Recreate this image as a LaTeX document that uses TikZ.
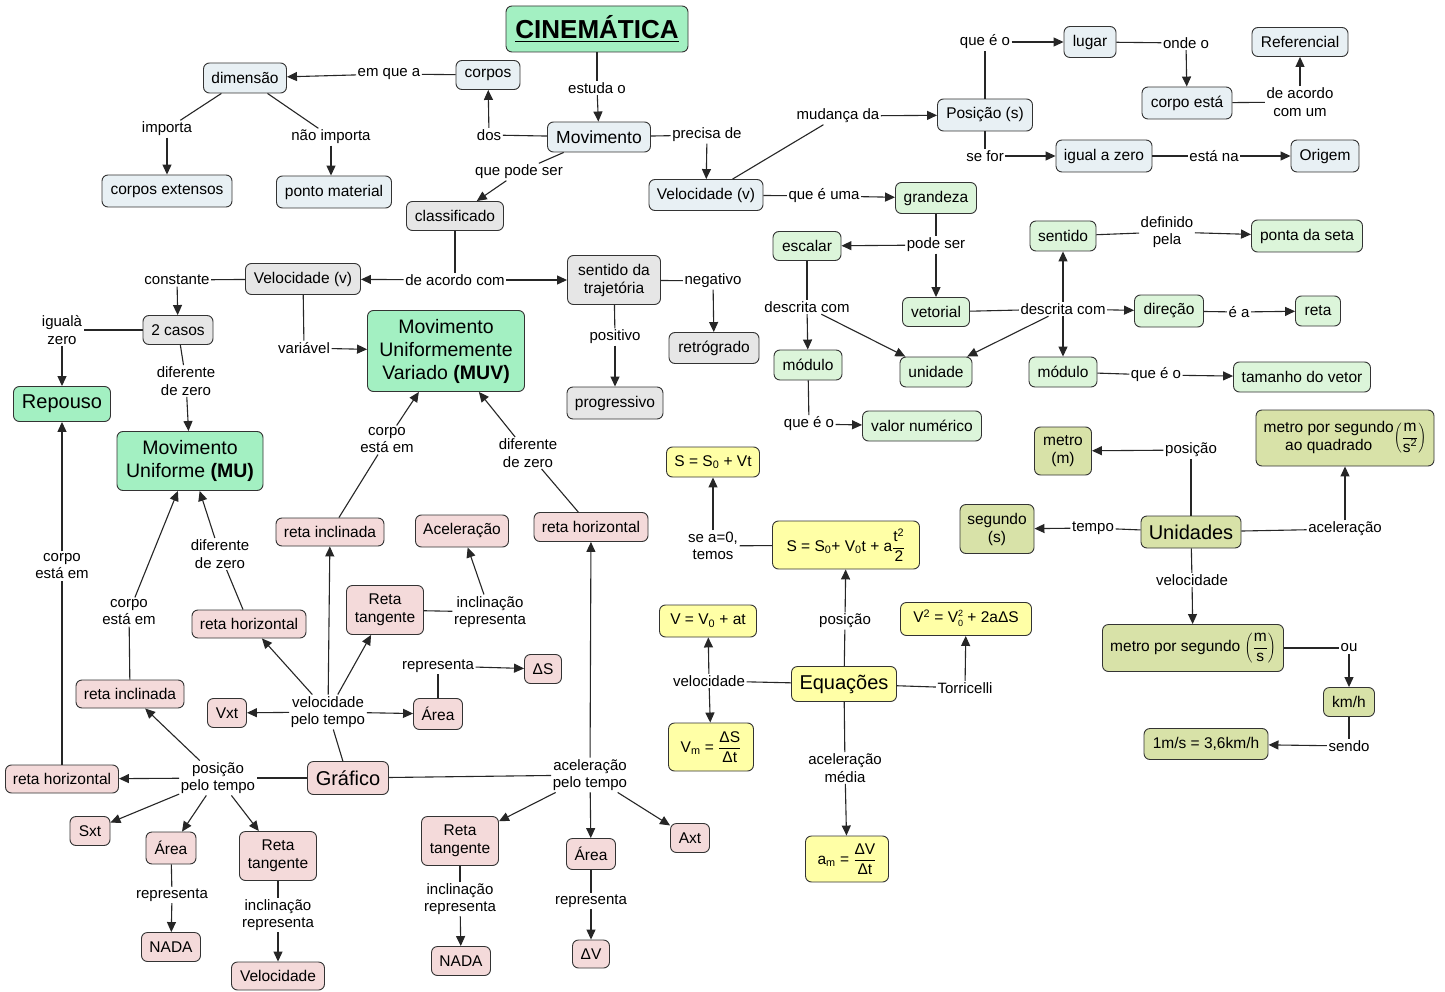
\documentclass[tikz,border=0pt]{standalone}
\usepackage{fontspec}
\setmainfont{Liberation Sans}
\usetikzlibrary{arrows.meta}
\definecolor{cBlue}{HTML}{E8F0F4}
\definecolor{cGray}{HTML}{E6E6E6}
\definecolor{cLG}{HTML}{DCF5DA}
\definecolor{cMint}{HTML}{A3F0C2}
\definecolor{cPink}{HTML}{F4DADA}
\definecolor{cYel}{HTML}{FFFFA6}
\definecolor{cOl}{HTML}{D8E2A8}
\newcommand\myfN{\fontsize{15.5}{18}\selectfont}
\newcommand\myfL{\fontsize{15}{17.5}\selectfont}
\newcommand\myfB{\fontsize{20}{23}\selectfont}
\newcommand\myfM{\fontsize{19.5}{23}\selectfont}
\newcommand\myfMv{\fontsize{17.5}{20}\selectfont}
\newcommand\myfT{\fontsize{26}{30}\selectfont\bfseries}
\newcommand\myul[1]{\setbox0\hbox{#1}\rlap{\copy0}\rule[-3.5pt]{\wd0}{1.6pt}}
\newcommand\mystack{\raisebox{1pt}{\fontsize{9}{10}\selectfont\begin{tabular}{@{}c@{}}2\\0\end{tabular}}}
\tikzset{
  bx/.style={draw=black!80, line width=0.9pt, rounded corners=6pt, align=center, inner sep=1pt, font=\myfN},
  nBlue/.style={bx, fill=cBlue},
  nGray/.style={bx, fill=cGray},
  nLG/.style={bx, fill=cLG},
  nMint/.style={bx, fill=cMint},
  nPink/.style={bx, fill=cPink},
  nYel/.style={bx, fill=cYel},
  nOl/.style={bx, fill=cOl},
  lbl/.style={font=\myfL, align=center, inner sep=1.5pt},
  ln/.style={draw=black!85, line width=1.1pt},
  ar/.style={ln, -{Triangle[length=10pt,width=9pt]}}
}
\begin{document}
\begin{tikzpicture}[x=1pt,y=-1pt]
\fill[white] (0,0) rectangle (1445,992);
\useasboundingbox (0,0) rectangle (1445,992);
% top
\node[nMint, font=\myfT, minimum width=182, minimum height=46] (cin) at (597,29) {\myul{CINEMÁTICA}};
\node[nBlue, minimum width=83, minimum height=30] (dim) at (245,78) {dimensão};
\node[nBlue, minimum width=64, minimum height=29] (cor) at (488,75) {corpos};
\node[lbl] (l1) at (389,74) {em que a};
\node[nBlue, font=\myfMv, minimum width=103, minimum height=30] (mov) at (599,137) {Movimento};
\node[lbl] (l2) at (597,88) {estuda o};
\node[lbl] (l3) at (489,135) {dos};
\node[lbl] (l4) at (707,135) {precisa de};
\node[lbl] (l5) at (519,172) {que pode ser};
\node[nGray, minimum width=97, minimum height=29] (cla) at (455,216) {classificado};
\node[lbl] (l6) at (167,129) {importa};
\node[lbl] (l7) at (331,137) {não importa};
\node[nBlue, minimum width=130, minimum height=32] (cext) at (167,191) {corpos extensos};
\node[nBlue, minimum width=115, minimum height=32] (pmat) at (334,192) {ponto material};
\node[nBlue, minimum width=114, minimum height=31] (vel) at (706,195) {Velocidade (v)};
\node[lbl] (l8) at (838,116) {mudança da};
\node[nBlue, minimum width=95, minimum height=32] (pos) at (985,115) {Posição (s)};
\node[lbl] (l9) at (985,42) {que é o};
\node[nBlue, minimum width=52, minimum height=31] (lug) at (1090,42) {lugar};
\node[lbl] (l10) at (1186,43) {onde o};
\node[nBlue, minimum width=90, minimum height=32] (cpe) at (1187,103) {corpo está};
\node[lbl] (l11) at (1300,102) {de acordo\\com um};
\node[nBlue, minimum width=96, minimum height=29] (ref) at (1300,42) {Referencial};
\node[lbl] (l12) at (985,156) {se for};
\node[nBlue, minimum width=96, minimum height=32] (iaz) at (1104,156) {igual a zero};
\node[lbl] (l13) at (1214,156) {está na};
\node[nBlue, minimum width=68, minimum height=32] (ori) at (1325,156) {Origem};
\node[lbl] (l14) at (824,196) {que é uma};
\node[nLG, minimum width=81, minimum height=31] (gra) at (936,198) {grandeza};
\node[lbl] (l15) at (936,245) {pode ser};
\node[nLG, minimum width=68, minimum height=29] (esc) at (807,246) {escalar};
\node[nLG, minimum width=67, minimum height=29] (vet) at (936,312) {vetorial};
\node[lbl] (l16) at (807,307) {descrita com};
\node[nLG, minimum width=68, minimum height=30] (modL) at (808,365) {módulo};
\node[nLG, minimum width=72, minimum height=30] (uni) at (936,372) {unidade};
\node[lbl] (l17) at (809,424) {que é o};
\node[nLG, minimum width=119, minimum height=30] (vnum) at (922,426) {valor numérico};
\node[lbl] (l18) at (1063,309) {descrita com};
\node[nLG, minimum width=66, minimum height=30] (sen) at (1063,236) {sentido};
\node[lbl] (l19) at (1167,232) {definido\\pela};
\node[nLG, minimum width=111, minimum height=32] (pse) at (1307,236) {ponta da seta};
\node[nLG, minimum width=69, minimum height=32] (dir) at (1169,311) {direção};
\node[lbl] (l20) at (1239,312) {é a};
\node[nLG, minimum width=45, minimum height=30] (ret) at (1318,311) {reta};
\node[nLG, minimum width=68, minimum height=30] (modR) at (1063,372) {módulo};
\node[lbl] (l21) at (1156,375) {que é o};
\node[nLG, minimum width=137, minimum height=30] (tam) at (1302,377) {tamanho do vetor};
% left middle
\node[nGray, minimum width=115, minimum height=31] (velL) at (303,279) {Velocidade (v)};
\node[lbl] (l22) at (455,280) {de acordo com};
\node[nGray, minimum width=93, minimum height=49] (str) at (614,280) {sentido da\\trajetória};
\node[lbl] (l23) at (713,281) {negativo};
\node[nGray, minimum width=90, minimum height=31] (retro) at (714,348) {retrógrado};
\node[lbl] (l24) at (615,337) {positivo};
\node[nGray, minimum width=96, minimum height=32] (prog) at (615,403) {progressivo};
\node[lbl] (l25) at (177,280) {constante};
\node[nGray, minimum width=70, minimum height=29] (cas) at (178,330) {2 casos};
\node[lbl] (l26) at (62,330) {igualà\\zero};
\node[nMint, font=\myfB, minimum width=97, minimum height=35] (rep) at (62,404) {Repouso};
\node[lbl] (l27) at (186,381) {diferente\\de zero};
\node[nMint, font=\myfM, minimum width=146, minimum height=59] (mu) at (190,461) {Movimento\\Uniforme \textbf{(MU)}};
\node[lbl] (l28) at (304,348) {variável};
\node[nMint, font=\myfM, minimum width=157, minimum height=81] (muv) at (446,351) {Movimento\\Uniformemente\\Variado \textbf{(MUV)}};
% graph part
\node[lbl] (l29) at (62,566) {corpo\\está em};
\node[lbl] (l30) at (129,612) {corpo\\está em};
\node[lbl] (l31) at (220,554) {diferente\\de zero};
\node[nPink, minimum width=114, minimum height=28] (rhM) at (249,624) {reta horizontal};
\node[nPink, minimum width=108, minimum height=28] (riL) at (130,694) {reta inclinada};
\node[nPink, minimum width=113, minimum height=28] (rhL) at (62,779) {reta horizontal};
\node[lbl] (l32) at (387,440) {corpo\\está em};
\node[lbl] (l33) at (528,453) {diferente\\de zero};
\node[nPink, minimum width=108, minimum height=28] (riM) at (330,532) {reta inclinada};
\node[nPink, minimum width=93, minimum height=32] (ace) at (462,531) {Aceleração};
\node[nPink, minimum width=114, minimum height=29] (rhR) at (591,527) {reta horizontal};
\node[nPink, minimum width=77, minimum height=49] (rtM) at (385,610) {Reta\\tangente};
\node[lbl] (l34) at (490,612) {inclinação\\representa};
\node[lbl] (l35) at (438,666) {representa};
\node[nPink, minimum width=37, minimum height=29] (dS) at (543,669) {ΔS};
\node[nPink, minimum width=49, minimum height=31] (arM) at (438,714) {Área};
\node[lbl] (l36) at (328,712) {velocidade\\pelo tempo};
\node[nPink, minimum width=39, minimum height=29] (vxt) at (227,713) {Vxt};
\node[nPink, font=\myfB, minimum width=81, minimum height=33] (gra2) at (348,778) {Gráfico};
\node[lbl] (l37) at (218,778) {posição\\pelo tempo};
\node[nPink, minimum width=40, minimum height=29] (sxt) at (90,831) {Sxt};
\node[nPink, minimum width=50, minimum height=32] (arL) at (171,848) {Área};
\node[nPink, minimum width=77, minimum height=49] (rtL) at (278,856) {Reta\\tangente};
\node[lbl] (l38) at (172,895) {representa};
\node[nPink, minimum width=59, minimum height=29] (nadaL) at (171,947) {NADA};
\node[lbl] (l39) at (278,915) {inclinação\\representa};
\node[nPink, minimum width=93, minimum height=28] (velB) at (278,976) {Velocidade};
\node[lbl] (l40) at (590,775) {aceleração\\pelo tempo};
\node[nPink, minimum width=77, minimum height=49] (rtR) at (460,841) {Reta\\tangente};
\node[lbl] (l41) at (460,899) {inclinação\\representa};
\node[nPink, minimum width=59, minimum height=29] (nadaR) at (461,961) {NADA};
\node[nPink, minimum width=49, minimum height=31] (arR) at (591,854) {Área};
\node[lbl] (l42) at (591,901) {representa};
\node[nPink, minimum width=37, minimum height=28] (dV) at (591,954) {ΔV};
\node[nPink, minimum width=39, minimum height=29] (axt) at (690,838) {Axt};
% equations
\node[nYel, minimum width=93, minimum height=30] (e1) at (713,462) {S = S\textsubscript{0} + Vt};
\node[lbl] (l43) at (713,546) {se a=0,\\temos};
\node[nYel, minimum width=147, minimum height=48] (e2) at (846,545) {S = S\textsubscript{0}+ V\textsubscript{0}t + a$\displaystyle\frac{\mbox{t\textsuperscript{2}}}{\mbox{2}}$};
\node[lbl] (l44) at (845,621) {posição};
\node[nYel, minimum width=97, minimum height=32] (e3) at (708,621) {V = V\textsubscript{0} + at};
\node[lbl] (l45) at (709,681) {velocidade};
\node[nYel, font=\myfB, minimum width=105, minimum height=35] (equ) at (844,684) {Equações};
\node[nYel, minimum width=131, minimum height=33] (e4) at (966,619) {V\textsuperscript{2} = V\mystack{} + 2aΔS};
\node[lbl] (l46) at (965,688) {Torricelli};
\node[nYel, minimum width=85, minimum height=48] (e5) at (711,747) {V\textsubscript{m} = $\displaystyle\frac{\mbox{ΔS}}{\mbox{Δt}}$};
\node[lbl] (l47) at (845,768) {aceleração\\média};
\node[nYel, minimum width=83, minimum height=46] (e6) at (847,859) {a\textsubscript{m} = $\displaystyle\frac{\mbox{ΔV}}{\mbox{Δt}}$};
% units
\node[nOl, minimum width=57, minimum height=48] (met) at (1063,451) {metro\\(m)};
\node[lbl] (l48) at (1191,450) {posição};
\node[nOl, minimum width=178, minimum height=56] (ms2) at (1345,438) {\begin{tabular}{@{}c@{}}metro por segundo\\ao quadrado\end{tabular}$\left(\displaystyle\frac{\mbox{m}}{\mbox{s\textsuperscript{2}}}\right)$};
\node[nOl, minimum width=74, minimum height=49] (seg) at (997,529) {segundo\\(s)};
\node[lbl] (l49) at (1093,528) {tempo};
\node[nOl, font=\myfB, minimum width=100, minimum height=32] (uni2) at (1191,532) {Unidades};
\node[lbl] (l50) at (1345,529) {aceleração};
\node[lbl] (l51) at (1192,580) {velocidade};
\node[nOl, minimum width=181, minimum height=47] (ms) at (1193,648) {metro por segundo $\left(\displaystyle\frac{\mbox{m}}{\mbox{s}}\right)$};
\node[lbl] (l52) at (1349,648) {ou};
\node[nOl, minimum width=51, minimum height=29] (kmh) at (1349,702) {km/h};
\node[lbl] (l53) at (1349,746) {sendo};
\node[nOl, minimum width=124, minimum height=31] (conv) at (1206,744) {1m/s = 3,6km/h};
% edges top
\draw[ln] (cor) -- (l1); \draw[ar] (l1) -- (dim);
\draw[ln] (cin) -- (l2); \draw[ar] (l2) -- (mov);
\draw[ln] (mov) -- (l3); \draw[ar] (l3) -- (cor);
\draw[ln] (mov) -- (l4); \draw[ar] (l4) -- (vel);
\draw[ln] (mov) -- (l5); \draw[ar] (l5) -- (cla);
\draw[ln] (dim) -- (l6); \draw[ar] (l6) -- (cext);
\draw[ln] (dim) -- (l7); \draw[ar] (l7) -- (l7 |- pmat.north);
\draw[ln] (vel) -- (l8); \draw[ar] (l8) -- (pos);
\draw[ln] (pos) -- (l9); \draw[ar] (l9) -- (lug);
\draw[ln] (lug) -- (l10); \draw[ar] (l10) -- (cpe);
\draw[ln] (cpe) -- (l11); \draw[ar] (l11) -- (ref);
\draw[ln] (pos) -- (l12); \draw[ar] (l12) -- (iaz);
\draw[ln] (iaz) -- (l13); \draw[ar] (l13) -- (ori);
\draw[ln] (vel) -- (l14); \draw[ar] (l14) -- (gra);
\draw[ln] (gra) -- (l15); \draw[ar] (l15) -- (esc); \draw[ar] (l15) -- (vet);
\draw[ln] (esc) -- (l16); \draw[ar] (l16) -- (modL); \draw[ar] (l16) -- (uni);
\draw[ln] (modL) -- (l17); \draw[ar] (l17) -- (vnum);
\draw[ln] (vet) -- (l18); \draw[ar] (l18) -- (dir); \draw[ar] (l18) -- (sen); \draw[ar] (l18) -- (modR); \draw[ar] (l18) -- (uni);
\draw[ln] (sen) -- (l19); \draw[ar] (l19) -- (pse);
\draw[ln] (dir) -- (l20); \draw[ar] (l20) -- (ret);
\draw[ln] (modR) -- (l21); \draw[ar] (l21) -- (tam);
% edges left middle
\draw[ln] (cla) -- (l22); \draw[ar] (l22) -- (velL); \draw[ar] (l22) -- (str);
\draw[ln] (str) -- (l23); \draw[ar] (l23) -- (retro);
\draw[ln] (str) -- (l24); \draw[ar] (l24) -- (prog);
\draw[ln] (velL) -- (l25); \draw[ar] (l25) -- (cas);
\draw[ln] (velL) -- (l28); \draw[ar] (l28) -- (muv);
\draw[ln] (cas) -- (l26); \draw[ar] (l26) -- (rep);
\draw[ln] (cas) -- (l27); \draw[ar] (l27) -- (mu);
\draw[ln] (rhL) -- (l29); \draw[ar] (l29) -- (rep);
\draw[ln] (riL) -- (l30); \draw[ar] (l30) -- (mu);
\draw[ln] (rhM) -- (l31); \draw[ar] (l31) -- (mu);
\draw[ln] (riM) -- (l32); \draw[ar] (l32) -- (muv);
\draw[ln] (rhR) -- (l33); \draw[ar] (l33) -- (muv);
% graph edges
\draw[ln] (gra2) -- (l37); \draw[ar] (l37) -- (rhL); \draw[ar] (l37) -- (riL); \draw[ar] (l37) -- (sxt); \draw[ar] (l37) -- (arL); \draw[ar] (l37) -- (rtL);
\draw[ln] (gra2) -- (l36); \draw[ar] (l36) -- (vxt); \draw[ar] (l36) -- (arM); \draw[ar] (l36) -- (riM); \draw[ar] (l36) -- (rhM); \draw[ar] (l36) -- (rtM);
\draw[ln] (gra2) -- (l40); \draw[ar] (l40) -- (rhR); \draw[ar] (l40) -- (rtR); \draw[ar] (l40) -- (arR); \draw[ar] (l40) -- (axt);
\draw[ln] (arL) -- (l38); \draw[ar] (l38) -- (nadaL);
\draw[ln] (rtL) -- (l39); \draw[ar] (l39) -- (velB);
\draw[ln] (rtM) -- (l34); \draw[ar] (l34) -- (ace);
\draw[ln] (arM) -- (l35); \draw[ar] (l35) -- (dS);
\draw[ln] (rtR) -- (l41); \draw[ar] (l41) -- (nadaR);
\draw[ln] (arR) -- (l42); \draw[ar] (l42) -- (dV);
% equation edges
\draw[ln] (equ) -- (l44); \draw[ar] (l44) -- (e2);
\draw[ln] (e2) -- (l43); \draw[ar] (l43) -- (e1);
\draw[ln] (equ) -- (l45); \draw[ar] (l45) -- (e3); \draw[ar] (l45) -- (e5);
\draw[ln] (equ) -- (l46); \draw[ar] (l46) -- (e4);
\draw[ln] (equ) -- (l47); \draw[ar] (l47) -- (e6);
% unit edges
\draw[ln] (uni2) -- (l48); \draw[ar] (l48) -- (met);
\draw[ln] (uni2) -- (l49); \draw[ar] (l49) -- (seg);
\draw[ln] (uni2) -- (l50); \draw[ar] (l50) -- (ms2);
\draw[ln] (uni2) -- (l51); \draw[ar] (l51) -- (ms);
\draw[ln] (ms) -- (l52); \draw[ar] (l52) -- (kmh);
\draw[ln] (kmh) -- (l53); \draw[ar] (l53) -- (conv);
\end{tikzpicture}
\end{document}
